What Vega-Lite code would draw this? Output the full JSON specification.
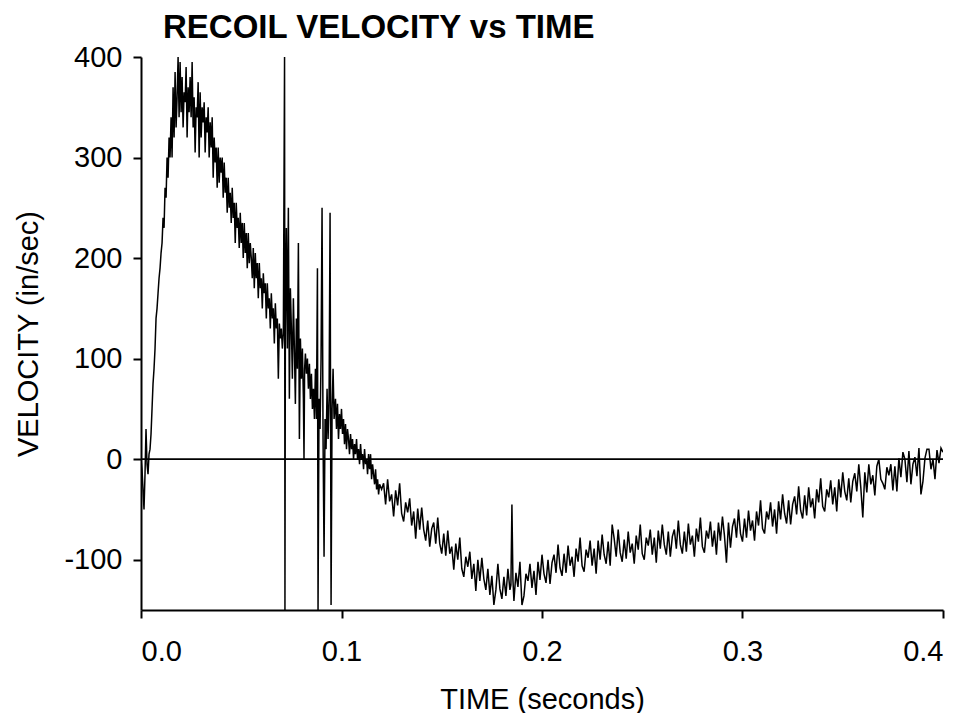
{
  "$schema": "https://vega.github.io/schema/vega-lite/v6.json",
  "autosize": {"type": "none"},
  "padding": {"left": 141, "top": 57, "right": 21, "bottom": 103},
  "width": 802,
  "height": 553,
  "background": "white",
  "title": {
    "text": "RECOIL VELOCITY vs TIME",
    "anchor": "start",
    "frame": "group",
    "dx": 22,
    "dy": 8,
    "offset": 6,
    "font": "Liberation Sans",
    "fontSize": 33,
    "fontWeight": "bold",
    "color": "black"
  },
  "config": {
    "view": {"stroke": null},
    "axis": {
      "grid": false,
      "domainColor": "black",
      "domainWidth": 2,
      "tickColor": "black",
      "tickWidth": 2,
      "tickSize": 8,
      "labelFont": "Liberation Sans",
      "labelFontSize": 29,
      "labelColor": "black",
      "titleFont": "Liberation Sans",
      "titleFontSize": 29,
      "titleFontWeight": "normal",
      "titleColor": "black"
    }
  },
  "layer": [
    {
      "data": {"values": [{"zero": 0}]},
      "mark": {"type": "rule", "color": "black", "strokeWidth": 1.8},
      "encoding": {
        "y": {"field": "zero", "type": "quantitative", "scale": {"domain": [-150, 400], "nice": false, "zero": false}}
      }
    },
    {
      "data": {"values": [
        {"t":0,"v":0},{"t":0.0005,"v":-10},{"t":0.001,"v":-30},{"t":0.0015,"v":-50},{"t":0.002,"v":-15},{"t":0.0025,"v":30},{"t":0.003,"v":-5},{"t":0.0035,"v":-15},{"t":0.004,"v":5},{"t":0.0045,"v":10},{"t":0.005,"v":25},{"t":0.0055,"v":50},{"t":0.006,"v":75},{"t":0.0065,"v":90},{"t":0.007,"v":110},{"t":0.0075,"v":140},{"t":0.008,"v":150},{"t":0.0085,"v":165},{"t":0.009,"v":180},{"t":0.0095,"v":190},{"t":0.01,"v":205},{"t":0.0105,"v":215},{"t":0.011,"v":240},{"t":0.0115,"v":230},{"t":0.012,"v":270},{"t":0.0125,"v":260},{"t":0.013,"v":300},{"t":0.0135,"v":280},{"t":0.014,"v":320},{"t":0.0145,"v":300},{"t":0.015,"v":340},
        {"t":0.0155,"v":300},{"t":0.016,"v":370},{"t":0.0165,"v":320},{"t":0.017,"v":385},{"t":0.0175,"v":330},{"t":0.018,"v":360},{"t":0.0185,"v":400},{"t":0.019,"v":340},{"t":0.0195,"v":395},{"t":0.02,"v":345},{"t":0.0205,"v":380},{"t":0.021,"v":330},{"t":0.0215,"v":365},{"t":0.022,"v":355},{"t":0.0225,"v":390},{"t":0.023,"v":320},{"t":0.0235,"v":370},{"t":0.024,"v":345},{"t":0.0245,"v":380},{"t":0.025,"v":340},{"t":0.0255,"v":395},{"t":0.026,"v":330},{"t":0.0265,"v":360},{"t":0.027,"v":305},{"t":0.0275,"v":350},{"t":0.028,"v":340},{"t":0.0285,"v":375},{"t":0.029,"v":300},{"t":0.0295,"v":365},{"t":0.03,"v":320},{"t":0.0305,"v":350},{"t":0.031,"v":335},{"t":0.0315,"v":355},{"t":0.032,"v":305},{"t":0.0325,"v":340},{"t":0.033,"v":325},{"t":0.0335,"v":350},{"t":0.034,"v":300},{"t":0.0345,"v":335},{"t":0.035,"v":310},{"t":0.0355,"v":340},{"t":0.036,"v":280},{"t":0.0365,"v":320},{"t":0.037,"v":295},{"t":0.0375,"v":310},{"t":0.038,"v":270},{"t":0.0385,"v":310},{"t":0.039,"v":275},{"t":0.0395,"v":300},{"t":0.04,"v":285},{"t":0.0405,"v":300},{"t":0.041,"v":260},{"t":0.0415,"v":295},{"t":0.042,"v":265},{"t":0.0425,"v":280},{"t":0.043,"v":245},{"t":0.0435,"v":280},{"t":0.044,"v":250},{"t":0.0445,"v":265},{"t":0.045,"v":235},{"t":0.0455,"v":270},{"t":0.046,"v":240},{"t":0.0465,"v":255},{"t":0.047,"v":215},{"t":0.0475,"v":255},{"t":0.048,"v":230},{"t":0.0485,"v":240},{"t":0.049,"v":210},{"t":0.0495,"v":245},{"t":0.05,"v":215},{"t":0.0505,"v":235},{"t":0.051,"v":200},{"t":0.0515,"v":235},{"t":0.052,"v":205},{"t":0.0525,"v":225},{"t":0.053,"v":190},{"t":0.0535,"v":225},{"t":0.054,"v":195},{"t":0.0545,"v":215},{"t":0.055,"v":200},{"t":0.0555,"v":180},{"t":0.056,"v":210},{"t":0.0565,"v":170},{"t":0.057,"v":205},{"t":0.0575,"v":180},{"t":0.058,"v":195},{"t":0.0585,"v":160},{"t":0.059,"v":195},{"t":0.0595,"v":170},{"t":0.06,"v":180},{"t":0.0605,"v":150},{"t":0.061,"v":185},{"t":0.0615,"v":165},{"t":0.062,"v":175},{"t":0.0625,"v":140},{"t":0.063,"v":175},{"t":0.0635,"v":150},{"t":0.064,"v":160},{"t":0.0645,"v":130},{"t":0.065,"v":165},{"t":0.0655,"v":140},{"t":0.066,"v":150},{"t":0.0665,"v":115},{"t":0.067,"v":155},{"t":0.0675,"v":130},{"t":0.068,"v":140},{"t":0.0685,"v":80},{"t":0.069,"v":135},{"t":0.0695,"v":120},{"t":0.07,"v":130},{"t":0.0705,"v":110},{"t":0.071,"v":125},
        {"t":0.0716,"v":400},{"t":0.0718,"v":-150},{"t":0.072,"v":130},{"t":0.0725,"v":230},{"t":0.073,"v":110},{"t":0.0735,"v":250},{"t":0.074,"v":60},{"t":0.0745,"v":170},{"t":0.075,"v":130},{"t":0.0755,"v":80},{"t":0.076,"v":160},{"t":0.0765,"v":110},{"t":0.077,"v":55},{"t":0.0775,"v":140},{"t":0.078,"v":90},{"t":0.0785,"v":215},{"t":0.079,"v":20},{"t":0.0795,"v":120},{"t":0.08,"v":80},{"t":0.0805,"v":110},{"t":0.081,"v":60},{"t":0.0813,"v":0},{"t":0.0816,"v":90},{"t":0.082,"v":105},{"t":0.0825,"v":85},{"t":0.083,"v":100},{"t":0.0835,"v":70},{"t":0.084,"v":95},{"t":0.0845,"v":60},{"t":0.085,"v":85},{"t":0.0855,"v":50},{"t":0.086,"v":70},{"t":0.0865,"v":40},{"t":0.087,"v":90},{"t":0.0875,"v":40},{"t":0.088,"v":190},{"t":0.0883,"v":-150},{"t":0.0888,"v":60},{"t":0.0893,"v":30},{"t":0.0898,"v":100},{"t":0.0903,"v":250},{"t":0.0908,"v":20},{"t":0.0913,"v":-97},{"t":0.0918,"v":40},{"t":0.0923,"v":10},{"t":0.0928,"v":70},{"t":0.0933,"v":20},{"t":0.0938,"v":60},{"t":0.0943,"v":245},{"t":0.0948,"v":-145},{"t":0.0953,"v":50},{"t":0.0958,"v":90},{"t":0.0963,"v":40},{"t":0.097,"v":60},{"t":0.0975,"v":30},{"t":0.098,"v":55},{"t":0.0985,"v":20},{"t":0.099,"v":45},{"t":0.0995,"v":30},{"t":0.1,"v":50},{"t":0.1005,"v":25},{"t":0.101,"v":40},{"t":0.1015,"v":15},{"t":0.102,"v":35},{"t":0.1025,"v":10},{"t":0.103,"v":30},{"t":0.1035,"v":20},{"t":0.104,"v":5},{"t":0.1045,"v":25},{"t":0.105,"v":10},{"t":0.1055,"v":20},{"t":0.106,"v":0},{"t":0.1065,"v":15},{"t":0.107,"v":5},{"t":0.1075,"v":20},{"t":0.108,"v":0},{"t":0.1085,"v":10},{"t":0.109,"v":-5},{"t":0.1095,"v":15},{"t":0.11,"v":0},{"t":0.1105,"v":5},{"t":0.111,"v":-10},{"t":0.1115,"v":10},{"t":0.112,"v":-5},{"t":0.1125,"v":0},{"t":0.113,"v":-15},{"t":0.1135,"v":5},{"t":0.114,"v":-10},{"t":0.1145,"v":5},{"t":0.115,"v":-20},{"t":0.1155,"v":-5},{"t":0.116,"v":-15},{"t":0.1165,"v":-25},{"t":0.117,"v":-10},{"t":0.1175,"v":-30},{"t":0.118,"v":-20},{"t":0.1185,"v":-35},{"t":0.119,"v":-25},{"t":0.12,"v":-30},
        {"t":0.121,"v":-24},{"t":0.122,"v":-45},{"t":0.123,"v":-20},{"t":0.124,"v":-42},{"t":0.125,"v":-35},{"t":0.126,"v":-57},{"t":0.127,"v":-31},{"t":0.128,"v":-46},{"t":0.129,"v":-24},{"t":0.13,"v":-54},
        {"t":0.131,"v":-62},{"t":0.132,"v":-43},{"t":0.133,"v":-53},{"t":0.134,"v":-39},{"t":0.135,"v":-66},{"t":0.136,"v":-52},{"t":0.137,"v":-79},{"t":0.138,"v":-49},{"t":0.139,"v":-70},{"t":0.14,"v":-48},
        {"t":0.141,"v":-70},{"t":0.142,"v":-81},{"t":0.143,"v":-61},{"t":0.144,"v":-87},{"t":0.145,"v":-69},{"t":0.146,"v":-63},{"t":0.147,"v":-84},{"t":0.148,"v":-58},{"t":0.149,"v":-84},{"t":0.15,"v":-94},
        {"t":0.151,"v":-74},{"t":0.152,"v":-96},{"t":0.153,"v":-71},{"t":0.154,"v":-94},{"t":0.155,"v":-87},{"t":0.156,"v":-110},{"t":0.157,"v":-84},{"t":0.158,"v":-100},{"t":0.159,"v":-78},{"t":0.16,"v":-109},
        {"t":0.161,"v":-117},{"t":0.162,"v":-97},{"t":0.163,"v":-107},{"t":0.164,"v":-92},{"t":0.165,"v":-119},{"t":0.166,"v":-104},{"t":0.167,"v":-131},{"t":0.168,"v":-100},{"t":0.169,"v":-121},{"t":0.17,"v":-98},
        {"t":0.171,"v":-119},{"t":0.172,"v":-130},{"t":0.173,"v":-109},{"t":0.174,"v":-135},{"t":0.175,"v":-116},{"t":0.176,"v":-145},{"t":0.177,"v":-130},{"t":0.178,"v":-104},{"t":0.179,"v":-129},{"t":0.18,"v":-139},
        {"t":0.181,"v":-117},{"t":0.182,"v":-136},{"t":0.183,"v":-109},{"t":0.184,"v":-130},{"t":0.1845,"v":-125},{"t":0.185,"v":-45},{"t":0.1855,"v":-120},{"t":0.186,"v":-141},{"t":0.187,"v":-113},{"t":0.188,"v":-127},{"t":0.189,"v":-102},{"t":0.19,"v":-145},
        {"t":0.191,"v":-136},{"t":0.192,"v":-114},{"t":0.193,"v":-121},{"t":0.194,"v":-104},{"t":0.195,"v":-128},{"t":0.196,"v":-111},{"t":0.197,"v":-135},{"t":0.198,"v":-102},{"t":0.199,"v":-120},{"t":0.2,"v":-95},
        {"t":0.201,"v":-114},{"t":0.202,"v":-123},{"t":0.203,"v":-100},{"t":0.204,"v":-124},{"t":0.205,"v":-103},{"t":0.206,"v":-95},{"t":0.207,"v":-113},{"t":0.208,"v":-85},{"t":0.209,"v":-108},{"t":0.21,"v":-116},
        {"t":0.211,"v":-94},{"t":0.212,"v":-113},{"t":0.213,"v":-86},{"t":0.214,"v":-106},{"t":0.215,"v":-97},{"t":0.216,"v":-117},{"t":0.217,"v":-89},{"t":0.218,"v":-102},{"t":0.219,"v":-78},{"t":0.22,"v":-106},
        {"t":0.221,"v":-112},{"t":0.222,"v":-90},{"t":0.223,"v":-98},{"t":0.224,"v":-81},{"t":0.225,"v":-106},{"t":0.226,"v":-89},{"t":0.227,"v":-114},{"t":0.228,"v":-81},{"t":0.229,"v":-100},{"t":0.23,"v":-75},
        {"t":0.231,"v":-95},{"t":0.232,"v":-104},{"t":0.233,"v":-82},{"t":0.234,"v":-106},{"t":0.235,"v":-65},{"t":0.236,"v":-79},{"t":0.237,"v":-97},{"t":0.238,"v":-70},{"t":0.239,"v":-93},{"t":0.24,"v":-102},
        {"t":0.241,"v":-80},{"t":0.242,"v":-99},{"t":0.243,"v":-72},{"t":0.244,"v":-93},{"t":0.245,"v":-84},{"t":0.246,"v":-104},{"t":0.247,"v":-76},{"t":0.248,"v":-90},{"t":0.249,"v":-65},{"t":0.25,"v":-94},
        {"t":0.251,"v":-100},{"t":0.252,"v":-78},{"t":0.253,"v":-86},{"t":0.254,"v":-70},{"t":0.255,"v":-95},{"t":0.256,"v":-78},{"t":0.257,"v":-103},{"t":0.258,"v":-71},{"t":0.259,"v":-89},{"t":0.26,"v":-65},
        {"t":0.261,"v":-85},{"t":0.262,"v":-95},{"t":0.263,"v":-72},{"t":0.264,"v":-97},{"t":0.265,"v":-77},{"t":0.266,"v":-70},{"t":0.267,"v":-89},{"t":0.268,"v":-61},{"t":0.269,"v":-85},{"t":0.27,"v":-94},
        {"t":0.271,"v":-72},{"t":0.272,"v":-92},{"t":0.273,"v":-64},{"t":0.274,"v":-85},{"t":0.275,"v":-76},{"t":0.276,"v":-97},{"t":0.277,"v":-69},{"t":0.278,"v":-82},{"t":0.279,"v":-58},{"t":0.28,"v":-87},
        {"t":0.281,"v":-93},{"t":0.282,"v":-71},{"t":0.283,"v":-79},{"t":0.284,"v":-62},{"t":0.285,"v":-87},{"t":0.286,"v":-71},{"t":0.287,"v":-95},{"t":0.288,"v":-63},{"t":0.289,"v":-81},{"t":0.29,"v":-57},
        {"t":0.291,"v":-76},{"t":0.292,"v":-103},{"t":0.293,"v":-63},{"t":0.294,"v":-88},{"t":0.295,"v":-67},{"t":0.296,"v":-59},{"t":0.297,"v":-78},{"t":0.298,"v":-50},{"t":0.299,"v":-74},{"t":0.3,"v":-82},
        {"t":0.301,"v":-59},{"t":0.302,"v":-78},{"t":0.303,"v":-51},{"t":0.304,"v":-71},{"t":0.305,"v":-61},{"t":0.306,"v":-81},{"t":0.307,"v":-52},{"t":0.308,"v":-66},{"t":0.309,"v":-41},{"t":0.31,"v":-69},
        {"t":0.311,"v":-74},{"t":0.312,"v":-52},{"t":0.313,"v":-60},{"t":0.314,"v":-43},{"t":0.315,"v":-67},{"t":0.316,"v":-50},{"t":0.317,"v":-74},{"t":0.318,"v":-42},{"t":0.319,"v":-60},{"t":0.32,"v":-35},
        {"t":0.321,"v":-54},{"t":0.322,"v":-64},{"t":0.323,"v":-41},{"t":0.324,"v":-65},{"t":0.325,"v":-45},{"t":0.326,"v":-37},{"t":0.327,"v":-55},{"t":0.328,"v":-27},{"t":0.329,"v":-51},{"t":0.33,"v":-59},
        {"t":0.331,"v":-36},{"t":0.332,"v":-56},{"t":0.333,"v":-28},{"t":0.334,"v":-48},{"t":0.335,"v":-39},{"t":0.336,"v":-59},{"t":0.337,"v":-30},{"t":0.338,"v":-43},{"t":0.339,"v":-19},{"t":0.34,"v":-47},
        {"t":0.341,"v":-52},{"t":0.342,"v":-30},{"t":0.343,"v":-38},{"t":0.344,"v":-21},{"t":0.345,"v":-45},{"t":0.346,"v":-28},{"t":0.347,"v":-52},{"t":0.348,"v":-20},{"t":0.349,"v":-38},{"t":0.35,"v":-13},
        {"t":0.351,"v":-32},{"t":0.352,"v":-41},{"t":0.353,"v":-19},{"t":0.354,"v":-43},{"t":0.355,"v":-22},{"t":0.356,"v":-14},{"t":0.357,"v":-32},{"t":0.358,"v":-5},{"t":0.359,"v":-28},{"t":0.36,"v":-58},
        {"t":0.361,"v":-13},{"t":0.362,"v":-33},{"t":0.363,"v":-5},{"t":0.364,"v":-25},{"t":0.365,"v":-16},{"t":0.366,"v":-36},{"t":0.367,"v":-7},{"t":0.368,"v":0},{"t":0.369,"v":-20},{"t":0.37,"v":-24},
        {"t":0.371,"v":-30},{"t":0.372,"v":-8},{"t":0.373,"v":-16},{"t":0.374,"v":-5},{"t":0.375,"v":-31},{"t":0.376,"v":-7},{"t":0.377,"v":-32},{"t":0.378,"v":1},{"t":0.379,"v":-18},{"t":0.38,"v":7},
        {"t":0.381,"v":0},{"t":0.382,"v":-23},{"t":0.383,"v":8},{"t":0.384,"v":-25},{"t":0.385,"v":-5},{"t":0.386,"v":2},{"t":0.387,"v":-17},{"t":0.388,"v":11},{"t":0.389,"v":-35},{"t":0.39,"v":-22},
        {"t":0.391,"v":1},{"t":0.392,"v":10},{"t":0.393,"v":10},{"t":0.394,"v":-10},{"t":0.395,"v":0},{"t":0.396,"v":-20},{"t":0.397,"v":9},{"t":0.398,"v":-4},{"t":0.399,"v":11},{"t":0.4,"v":7}
      ]},
      "mark": {"type": "line", "color": "black", "strokeWidth": 1.5, "clip": true},
      "encoding": {
        "x": {
          "field": "t", "type": "quantitative",
          "scale": {"domain": [0, 0.4], "nice": false, "zero": false},
          "axis": {"title": "TIME (seconds)", "values": [0, 0.1, 0.2, 0.3, 0.4], "format": ".1f", "labelPadding": 19, "titlePadding": 19}
        },
        "y": {
          "field": "v", "type": "quantitative",
          "scale": {"domain": [-150, 400], "nice": false, "zero": false},
          "axis": {"title": "VELOCITY (in/sec)", "values": [-100, 0, 100, 200, 300, 400], "labelExpr": "replace(datum.label, '−', '-')", "labelPadding": 11, "titlePadding": 20}
        }
      }
    }
  ]
}
